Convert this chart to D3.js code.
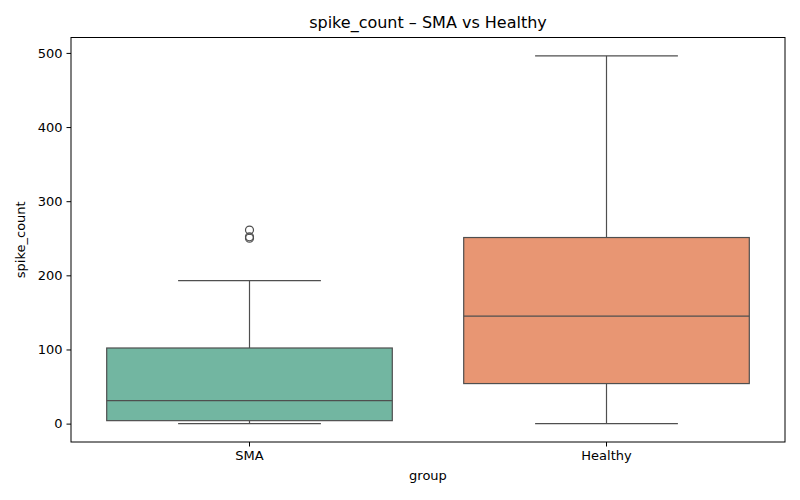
<html>
  <head>
    <meta charset="utf-8">
    <style>
      body { margin: 0; background: #fff; }
      svg { font-family: "DejaVu Sans", sans-serif; }
      .box { stroke: #4f4f4f; stroke-width: 1.2px; }
      .whisk { stroke: #4f4f4f; stroke-width: 1.2px; fill: none; }
      .axis path, .axis line { stroke: #000; stroke-width: 1px; }
      .axis text { font-size: 13px; fill: #000; font-family: "DejaVu Sans", sans-serif; }
    </style>
  </head>
<body>
  <svg width="800" height="500"></svg>
  <script src="https://d3js.org/d3.v7.min.js"></script>
  <script>
    // values
    var groups = ["SMA", "Healthy"];
    var lowWhisker = [0, 0];
    var q1 = [4, 54];
    var median = [31, 145];
    var q3 = [102, 251];
    var highWhisker = [193, 496];
    var outliersSMA = [250, 252, 261];
    var outliersHealthy = [];
    var colors = ["#72b6a1", "#e89673"];
    var yTicks = [0, 100, 200, 300, 400, 500];

    var svg = d3.select("svg");
    var margin = {top: 37.5, right: 15, bottom: 58, left: 71};
    var width = +svg.attr("width") - margin.left - margin.right;
    var height = +svg.attr("height") - margin.top - margin.bottom;
    var g = svg.append("g").attr("transform", "translate(" + margin.left + "," + margin.top + ")");

    var x = d3.scaleBand().domain(groups).range([0, width]).paddingInner(0).paddingOuter(0);
    var pad = (496 - 0) * 0.05;
    var y = d3.scaleLinear().domain([0 - pad, 496 + pad]).range([height, 0]);

    var boxW = x.bandwidth() * 0.8;
    var capW = boxW / 2;

    groups.forEach(function(grp, i) {
      var cx = x(grp) + x.bandwidth() / 2;
      // whiskers
      g.append("line").attr("class", "whisk")
        .attr("x1", cx).attr("x2", cx)
        .attr("y1", y(q3[i])).attr("y2", y(highWhisker[i]));
      g.append("line").attr("class", "whisk")
        .attr("x1", cx).attr("x2", cx)
        .attr("y1", y(q1[i])).attr("y2", y(lowWhisker[i]));
      g.append("line").attr("class", "whisk")
        .attr("x1", cx - capW / 2).attr("x2", cx + capW / 2)
        .attr("y1", y(highWhisker[i])).attr("y2", y(highWhisker[i]));
      g.append("line").attr("class", "whisk")
        .attr("x1", cx - capW / 2).attr("x2", cx + capW / 2)
        .attr("y1", y(lowWhisker[i])).attr("y2", y(lowWhisker[i]));
      // box
      g.append("rect").attr("class", "box")
        .attr("x", cx - boxW / 2).attr("width", boxW)
        .attr("y", y(q3[i])).attr("height", y(q1[i]) - y(q3[i]))
        .attr("fill", colors[i]);
      g.append("line").attr("class", "whisk")
        .attr("x1", cx - boxW / 2).attr("x2", cx + boxW / 2)
        .attr("y1", y(median[i])).attr("y2", y(median[i]));
      // fliers
      var fl = i === 0 ? outliersSMA : outliersHealthy;
      g.selectAll(null).data(fl).enter().append("circle")
        .attr("cx", cx).attr("cy", function(d) { return y(d); })
        .attr("r", 4).attr("fill", "none")
        .attr("stroke", "#4f4f4f").attr("stroke-width", 1.2);
    });

    g.append("g")
        .attr("class", "axis axis--x")
        .attr("transform", "translate(0," + height + ")")
        .call(d3.axisBottom(x).tickSizeOuter(0).tickSize(4.5).tickPadding(4))
        .select(".domain").remove();

    g.append("g")
        .attr("class", "axis axis--y")
        .call(d3.axisLeft(y).tickValues(yTicks).tickSize(4.5).tickPadding(4))
        .select(".domain").remove();

    // frame
    g.append("rect")
      .attr("width", width).attr("height", height)
      .attr("fill", "none").attr("stroke", "#000").attr("stroke-width", 1);

    svg.append("text")
      .attr("x", margin.left + width / 2).attr("y", 28)
      .attr("text-anchor", "middle")
      .style("font-size", "16px")
      .text("spike_count \u2013 SMA vs Healthy");

    svg.append("text")
      .attr("x", margin.left + width / 2).attr("y", 480)
      .attr("text-anchor", "middle")
      .style("font-size", "13px")
      .text("group");

    svg.append("text")
      .attr("transform", "translate(25," + (margin.top + height / 2) + ") rotate(-90)")
      .attr("text-anchor", "middle")
      .style("font-size", "13px")
      .text("spike_count");
  </script>
  </body>
</html>
